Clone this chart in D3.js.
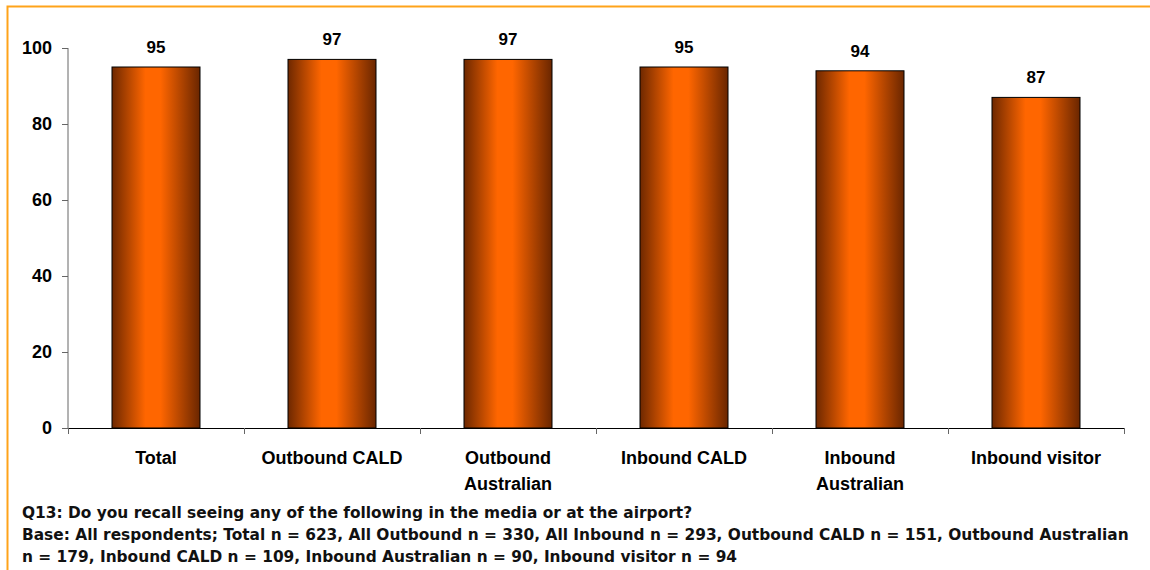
<!DOCTYPE html>
<head>
  <meta charset="utf-8">
  <script src="https://cdn.jsdelivr.net/npm/d3@7"></script>
  <style>
    body { margin:0; background:#fff; }
    svg { display:block; }
  </style>
</head>
<body>
<script>
var categories = [["Total"], ["Outbound CALD"], ["Outbound", "Australian"], ["Inbound CALD"], ["Inbound", "Australian"], ["Inbound visitor"]];
var values = [95, 97, 97, 95, 94, 87];
var yTicks = [0, 20, 40, 60, 80, 100];
var notes = [
  "Q13: Do you recall seeing any of the following in the media or at the airport?",
  "Base: All respondents; Total n = 623, All Outbound n = 330, All Inbound n = 293, Outbound CALD n = 151, Outbound Australian",
  "n = 179, Inbound CALD n = 109, Inbound Australian n = 90, Inbound visitor n = 94"
];

var width = 1150, height = 570;
var margin = {left: 68, right: 26, top: 48, bottom: 142};

var svg = d3.select("body").append("svg")
  .attr("width", width)
  .attr("height", height);

// orange frame
svg.append("rect")
  .attr("x", 7.5).attr("y", 6.5)
  .attr("width", width + 10).attr("height", height + 10)
  .attr("fill", "none")
  .attr("stroke", "#ffa31a")
  .attr("stroke-width", 2);

var grad = svg.append("defs").append("linearGradient")
  .attr("id", "barGrad")
  .attr("x1", "0%").attr("x2", "100%").attr("y1", "0%").attr("y2", "0%");
grad.append("stop").attr("offset", "0%").attr("stop-color", "#6e2800");
grad.append("stop").attr("offset", "38%").attr("stop-color", "#ff6600");
grad.append("stop").attr("offset", "55%").attr("stop-color", "#ff6600");
grad.append("stop").attr("offset", "100%").attr("stop-color", "#6a2600");

var x = d3.scaleBand()
  .domain(d3.range(categories.length))
  .range([margin.left, width - margin.right])
  .paddingInner(0.5).paddingOuter(0.25);

var y = d3.scaleLinear()
  .domain([0, 100])
  .range([height - margin.bottom, margin.top]);

// bars
svg.selectAll("rect.bar").data(values).enter().append("rect")
  .attr("class", "bar")
  .attr("x", function(d, i) { return x(i); })
  .attr("y", function(d) { return y(d); })
  .attr("width", x.bandwidth())
  .attr("height", function(d) { return y(0) - y(d); })
  .attr("fill", "url(#barGrad)")
  .attr("stroke", "#000")
  .attr("stroke-width", 1);

// value labels
svg.selectAll("text.val").data(values).enter().append("text")
  .attr("class", "val")
  .attr("x", function(d, i) { return x(i) + x.bandwidth() / 2; })
  .attr("y", function(d) { return y(d) - 14; })
  .attr("text-anchor", "middle")
  .attr("font-family", "Liberation Sans, Arial")
  .attr("font-weight", "bold")
  .attr("font-size", 17)
  .text(function(d) { return d; });

// y axis
var yAxis = svg.append("g")
  .attr("transform", "translate(" + margin.left + ",0)")
  .call(d3.axisLeft(y).tickValues(yTicks).tickSize(6).tickPadding(10));
yAxis.selectAll("line, path").attr("stroke", "#666");
yAxis.select(".domain").attr("d", "M0," + y(100) + "V" + y(0));
yAxis.selectAll("text")
  .attr("font-family", "Liberation Sans, Arial")
  .attr("font-weight", "bold")
  .attr("font-size", 18)
  .attr("fill", "#000");

// x axis line with ticks between categories
var xBoundaries = d3.range(categories.length + 1).map(function(i) { return margin.left + i * (width - margin.right - margin.left) / categories.length; });
svg.append("line")
  .attr("x1", margin.left).attr("x2", width - margin.right)
  .attr("y1", y(0) + 0.5).attr("y2", y(0) + 0.5)
  .attr("stroke", "#000");
svg.selectAll("line.xt").data(xBoundaries).enter().append("line")
  .attr("class", "xt")
  .attr("x1", function(d) { return Math.round(d) + 0.5; })
  .attr("x2", function(d) { return Math.round(d) + 0.5; })
  .attr("y1", y(0)).attr("y2", y(0) + 6)
  .attr("stroke", "#666");

// category labels
var cat = svg.selectAll("text.cat").data(categories).enter().append("text")
  .attr("class", "cat")
  .attr("x", function(d, i) { return x(i) + x.bandwidth() / 2; })
  .attr("y", y(0) + 36)
  .attr("text-anchor", "middle")
  .attr("font-family", "Liberation Sans, Arial")
  .attr("font-weight", "bold")
  .attr("font-size", 18);
cat.selectAll("tspan").data(function(d) { return d; }).enter().append("tspan")
  .attr("x", function() { return d3.select(this.parentNode).attr("x"); })
  .attr("dy", function(d, i) { return i === 0 ? 0 : 26; })
  .text(function(d) { return d; });

// footnote
svg.selectAll("text.note").data(notes).enter().append("text")
  .attr("class", "note")
  .attr("x", 22)
  .attr("y", function(d, i) { return 518 + i * 22; })
  .attr("font-family", "DejaVu Sans")
  .attr("font-weight", "bold")
  .attr("font-size", 15.4)
  .attr("fill", "#111")
  .text(function(d) { return d; });
</script>
</body>
